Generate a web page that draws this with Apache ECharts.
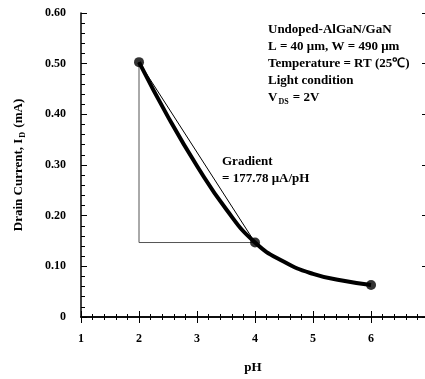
<!DOCTYPE html>
<html>
<head>
<meta charset="utf-8">
<script src="https://cdn.jsdelivr.net/npm/echarts@6/dist/echarts.min.js"></script>
<style>
  html, body { margin: 0; padding: 0; background: #fff; }
  #main { width: 425px; height: 379px; }
</style>
</head>
<body>
<div id="main"></div>
<script>
// 漏极电流随 pH 变化
var chart = echarts.init(document.getElementById("main"));

// 拟合曲线 (pH, mA)
var curvePH = [2, 2.5, 3, 3.5, 4, 4.5, 5, 5.5, 6];
var curveID = [0.503, 0.395, 0.298, 0.213, 0.147, 0.109, 0.085, 0.072, 0.063];
// 测量点
var pointPH = [2, 4, 6];
var pointID = [0.503, 0.147, 0.063];
// 斜率三角形
var triPH = [2, 2, 4];
var triID = [0.503, 0.147, 0.147];

var FONT = "Liberation Serif";

function pairs(xs, ys) {
  return xs.map(function (x, i) { return [x, ys[i]]; });
}

var option = {
  animation: false,
  backgroundColor: "#fff",
  textStyle: { fontFamily: FONT },
  grid: { left: 81, top: 13, right: 0, bottom: 55 },
  xAxis: [
    {
      type: "value",
      min: 1,
      max: 6.93,
      interval: 1,
      name: "pH",
      nameLocation: "middle",
      nameGap: 44,
      nameTextStyle: { fontFamily: FONT, fontWeight: "bold", fontSize: 13, color: "#000" },
      axisLine: { lineStyle: { color: "#000", width: 1.5 } },
      axisTick: { inside: true, length: 6, lineStyle: { color: "#000", width: 1 } },
      minorTick: { show: true, splitNumber: 5, length: 3, lineStyle: { color: "#000", width: 1 } },
      splitLine: { show: false },
      axisLabel: {
        margin: 16,
        fontFamily: FONT, fontWeight: "bold", fontSize: 12, color: "#000",
        showMaxLabel: false
      }
    },
    {
      type: "value",
      position: "top",
      min: 1,
      max: 6.93,
      interval: 1,
      axisLine: { show: true, lineStyle: { color: "#000", width: 1.5 } },
      axisTick: { inside: true, length: 6, lineStyle: { color: "#000", width: 1 } },
      minorTick: { show: true, splitNumber: 5, length: 3, lineStyle: { color: "#000", width: 1 } },
      splitLine: { show: false },
      axisLabel: { show: false }
    }
  ],
  yAxis: [
    {
      type: "value",
      min: 0,
      max: 0.6,
      interval: 0.1,
      name: "{a|Drain Current, I}{s|D}{a| (mA)}",
      nameLocation: "middle",
      nameGap: 54,
      nameTextStyle: {
        rich: {
          a: { fontFamily: FONT, fontWeight: "bold", fontSize: 13, color: "#000" },
          s: { fontFamily: FONT, fontWeight: "bold", fontSize: 8, color: "#000", padding: [8, 1, 0, 1] }
        }
      },
      axisLine: { show: true, lineStyle: { color: "#000", width: 1.5 } },
      axisTick: { inside: true, length: 6, lineStyle: { color: "#000", width: 1 } },
      minorTick: { show: true, splitNumber: 5, length: 4, lineStyle: { color: "#000", width: 1 } },
      splitLine: { show: false },
      axisLabel: {
        margin: 15,
        fontFamily: FONT, fontWeight: "bold", fontSize: 12, color: "#000",
        formatter: function (v) { return v === 0 ? "0" : v.toFixed(2); }
      }
    },
    {
      type: "value",
      position: "right",
      min: 0,
      max: 0.6,
      interval: 0.1,
      axisLine: { show: false },
      axisTick: { show: true, inside: true, length: 3, lineStyle: { color: "#000", width: 1 } },
      splitLine: { show: false },
      axisLabel: { show: false }
    }
  ],
  series: [
    {
      name: "triangle",
      type: "line",
      data: pairs(triPH, triID),
      symbol: "none",
      lineStyle: { color: "#555", width: 1 },
      z: 1
    },
    {
      name: "hypotenuse",
      type: "line",
      data: [[triPH[0], triID[0]], [triPH[2], triID[2]]],
      symbol: "none",
      lineStyle: { color: "#000", width: 1 },
      z: 2
    },
    {
      name: "fit",
      type: "line",
      data: pairs(curvePH, curveID),
      smooth: 0.5,
      symbol: "none",
      lineStyle: { color: "#000", width: 4 },
      z: 3
    },
    {
      name: "points",
      type: "scatter",
      data: pairs(pointPH, pointID),
      symbol: "circle",
      symbolSize: 10,
      itemStyle: { color: "#000" },
      z: 4
    }
  ],
  graphic: [
    {
      type: "text",
      left: 268,
      top: 23,
      style: {
        text: "{a|Undoped-AlGaN/GaN}\n{a|L = 40 μm, W = 490 μm}\n{a|Temperature = RT (25℃)}\n{a|Light condition}\n{a|V}{s|DS}{a| = 2V}",
        rich: {
          a: { fontFamily: FONT, fontWeight: "bold", fontSize: 13, lineHeight: 17, fill: "#000" },
          s: { fontFamily: FONT, fontWeight: "bold", fontSize: 8, lineHeight: 17, padding: [9, 1, 0, 1], fill: "#000" }
        }
      }
    },
    {
      type: "text",
      left: 222,
      top: 153,
      style: {
        text: "Gradient\n= 177.78 μA/pH",
        fontFamily: FONT,
        fontWeight: "bold",
        fontSize: 13,
        lineHeight: 17,
        fill: "#000"
      }
    }
  ]
};

chart.setOption(option);

window.addEventListener("resize", function () {
  chart.resize();
});
</script>
</body>
</html>
